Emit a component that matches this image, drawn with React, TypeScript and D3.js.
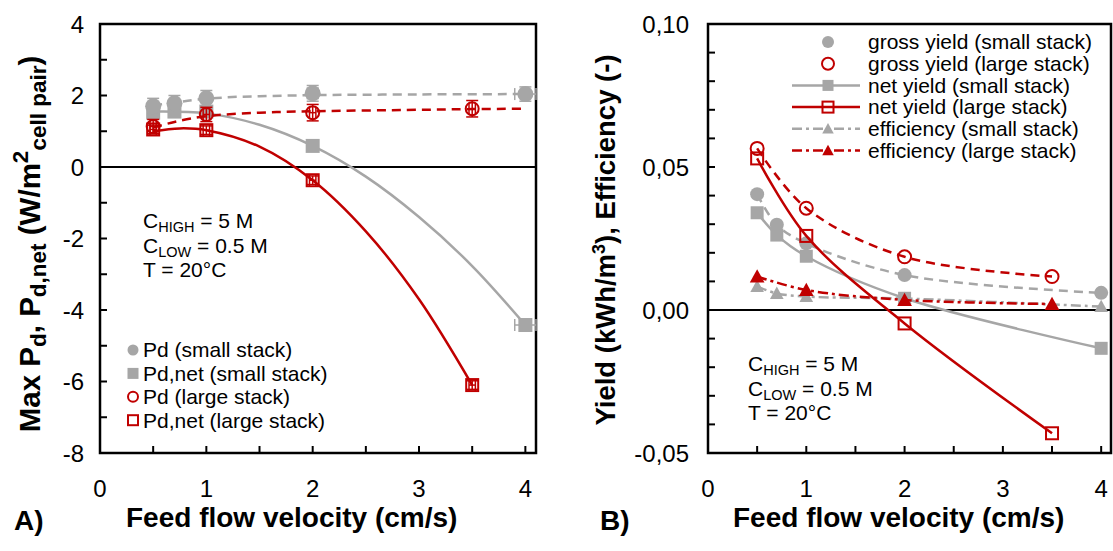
import React from "react";
import * as d3 from "d3";

// ---------- Panel A data ----------
const xSmallA = [0.5, 0.7, 1, 2, 4];
const pdSmall = [1.7, 1.78, 1.92, 2.06, 2.04];
const pdSmallErr = [0.22, 0.22, 0.22, 0.22, 0.2];
const pdSmallXErr = [0.03, 0.03, 0.03, 0.05, 0.1];
const pdNetSmall = [1.52, 1.55, 1.55, 0.59, -4.42];
const pdNetSmallErr = [0.15, 0.15, 0.15, 0.15, 0.15];
const pdNetSmallXErr = [0.03, 0.03, 0.03, 0.05, 0.1];

const xLargeA = [0.5, 1, 2, 3.5];
const pdLarge = [1.13, 1.47, 1.52, 1.63];
const pdLargeErr = [0.2, 0.2, 0.23, 0.23];
const pdLargeXErr = [0.03, 0.03, 0.03, 0.03];
const pdNetLarge = [1.05, 1.03, -0.37, -6.1];
const pdNetLargeErr = [0.12, 0.12, 0.12, 0.12];
const pdNetLargeXErr = [0.03, 0.03, 0.03, 0.03];

// fitted trend curves
const trendPdSmallX = [0.5, 0.7, 0.9, 1.2, 1.5, 2, 3, 4];
const trendPdSmallY = [1.72, 1.8, 1.88, 1.95, 1.98, 2.01, 2.03, 2.04];
const trendPdLargeX = [0.5, 0.7, 1, 1.5, 2, 3, 3.5, 4];
const trendPdLargeY = [1.1, 1.26, 1.42, 1.52, 1.56, 1.6, 1.62, 1.63];
const trendNetSmallX = [0.5, 1, 1.5, 2, 2.5, 3, 3.5, 4];
const trendNetSmallY = [1.55, 1.5, 1.18, 0.59, -0.27, -1.4, -2.77, -4.42];
const trendNetLargeX = [0.5, 0.75, 1, 1.5, 2, 2.5, 3, 3.5];
const trendNetLargeY = [1.0, 1.08, 1.03, 0.57, -0.37, -1.8, -3.7, -6.1];

const xTicksA = [0, 1, 2, 3, 4];
const yTicksA = [4, 2, 0, -2, -4, -6, -8];

// ---------- Panel B data ----------
const xSmallB = [0.5, 0.7, 1, 2, 4];
const grossSmall = [0.0405, 0.0298, 0.0233, 0.0122, 0.006];
const netSmall = [0.034, 0.0262, 0.0188, 0.0041, -0.0134];
const effSmall = [0.0082, 0.0058, 0.0047, 0.004, 0.0012];
const xLargeB = [0.5, 1, 2, 3.5];
const grossLarge = [0.0565, 0.0356, 0.0186, 0.0117];
const netLarge = [0.053, 0.0259, -0.0047, -0.0431];
const effLarge = [0.0117, 0.007, 0.0035, 0.0021];

const xTicksB = [0, 1, 2, 3, 4];
const yTicksB = [0.1, 0.05, 0, -0.05];

const legendA = ["Pd (small stack)", "Pd,net (small stack)", "Pd (large stack)", "Pd,net (large stack)"];
const legendB = [
  "gross yield (small stack)",
  "gross yield (large stack)",
  "net yield (small stack)",
  "net yield (large stack)",
  "efficiency (small stack)",
  "efficiency (large stack)",
];

const GRAY = "#A6A6A6";
const RED = "#C00000";
const FONT = "'Liberation Sans', Arial, sans-serif";

type Shape = "circle" | "square" | "triangle";

function Marker({ x, y, shape, color, filled, size }: { x: number; y: number; shape: Shape; color: string; filled: boolean; size: number }) {
  const fill = filled ? color : "none";
  const sw = filled ? 0 : 2;
  const h = size / 2;
  if (shape === "circle") return <circle cx={x} cy={y} r={h} fill={fill} stroke={color} strokeWidth={sw} />;
  if (shape === "square") return <rect x={x - h} y={y - h} width={size} height={size} fill={fill} stroke={color} strokeWidth={sw} />;
  const pts = [[x, y - h * 1.05], [x + h * 1.05, y + h * 0.85], [x - h * 1.05, y + h * 0.85]];
  return <polygon points={pts.map((p) => p.join(",")).join(" ")} fill={fill} stroke={color} strokeWidth={sw} />;
}

function ErrorBars({ xs, ys, ye, xe, sx, sy, color }: any) {
  return (
    <g stroke={color} strokeWidth={1.5}>
      {xs.map((xv: number, i: number) => {
        const cx = sx(xv), cy = sy(ys[i]);
        const t = sy(ys[i] + ye[i]), b = sy(ys[i] - ye[i]);
        const l = sx(xv - xe[i]), r = sx(xv + xe[i]);
        return (
          <g key={i}>
            <line x1={cx} x2={cx} y1={t} y2={b} />
            <line x1={cx - 6} x2={cx + 6} y1={t} y2={t} />
            <line x1={cx - 6} x2={cx + 6} y1={b} y2={b} />
            <line x1={l} x2={r} y1={cy} y2={cy} />
            <line x1={l} x2={l} y1={cy - 6} y2={cy + 6} />
            <line x1={r} x2={r} y1={cy - 6} y2={cy + 6} />
          </g>
        );
      })}
    </g>
  );
}

function curvePath(xs: number[], ys: number[], sx: any, sy: any) {
  const line = d3
    .line<number>()
    .x((_, i) => sx(xs[i]))
    .y((d) => sy(d))
    .curve(d3.curveCatmullRom.alpha(0.5));
  return line(ys) || "";
}

function Frame({ sx, sy, xDomain, yDomain, minorX, minorY }: any) {
  const [x0, x1] = xDomain;
  const [y0, y1] = yDomain;
  const L = sx(x0), R = sx(x1), T = sy(y1), B = sy(y0);
  return (
    <g>
      <rect x={L} y={T} width={R - L} height={B - T} fill="none" stroke="#000" strokeWidth={2.5} />
      <line x1={L} x2={R} y1={sy(0)} y2={sy(0)} stroke="#000" strokeWidth={2} />
      {minorX.map((v: number, i: number) => (
        <line key={"mx" + i} x1={sx(v)} x2={sx(v)} y1={B} y2={B - 7} stroke="#000" strokeWidth={2} />
      ))}
      {minorY.map((v: number, i: number) => (
        <line key={"my" + i} x1={L} x2={L + 7} y1={sy(v)} y2={sy(v)} stroke="#000" strokeWidth={2} />
      ))}
    </g>
  );
}

function Annotation({ x, y }: { x: number; y: number }) {
  return (
    <g fontSize={21}>
      <text x={x} y={y}>
        C<tspan fontSize={14.5} dy={4}>HIGH</tspan>
        <tspan dy={-4}> = 5 M</tspan>
      </text>
      <text x={x} y={y + 24.5}>
        C<tspan fontSize={14.5} dy={4}>LOW</tspan>
        <tspan dy={-4}> = 0.5 M</tspan>
      </text>
      <text x={x} y={y + 49}>T = 20°C</text>
    </g>
  );
}

export default function App() {
  // Panel A scales
  const sxA = d3.scaleLinear().domain([0, 4.1]).range([100, 536]);
  const syA = d3.scaleLinear().domain([-8, 4]).range([453, 24]);
  // Panel B scales
  const sxB = d3.scaleLinear().domain([0, 4.1]).range([708, 1111]);
  const syB = d3.scaleLinear().domain([-0.05, 0.1]).range([453, 24]);

  const minorXA = d3.range(0.5, 4.01, 0.5);
  const minorYA = d3.range(-7, 4, 1);
  const minorXB = d3.range(0.5, 4.01, 0.5);
  const minorYB = d3.range(-0.04, 0.0951, 0.01);

  const fmtB = (v: number) => d3.format(".2f")(v).replace(".", ",").replace("−", "-");

  return (
    <svg width={1113} height={551} style={{ position: "absolute", left: 0, top: 0, background: "#fff" }} fontFamily={FONT}>
      <rect x={0} y={0} width={1113} height={551} fill="#fff" />
      {/* ================= Panel A ================= */}
      <Frame sx={sxA} sy={syA} xDomain={[0, 4.1]} yDomain={[-8, 4]} minorX={minorXA} minorY={minorYA} />
      {yTicksA.map((v) => (
        <text key={"ya" + v} x={84} y={syA(v)} dy="0.36em" textAnchor="end" fontSize={24}>
          {String(v)}
        </text>
      ))}
      {xTicksA.map((v) => (
        <text key={"xa" + v} x={sxA(v)} y={497} textAnchor="middle" fontSize={24}>
          {v}
        </text>
      ))}
      {/* trend lines */}
      <path d={curvePath(trendPdSmallX, trendPdSmallY, sxA, syA)} fill="none" stroke={GRAY} strokeWidth={2.5} strokeDasharray="9,6" />
      <path d={curvePath(trendNetSmallX, trendNetSmallY, sxA, syA)} fill="none" stroke={GRAY} strokeWidth={2.5} />
      {/* gray markers */}
      <ErrorBars xs={xSmallA} ys={pdNetSmall} ye={pdNetSmallErr} xe={pdNetSmallXErr} sx={sxA} sy={syA} color={GRAY} />
      {xSmallA.map((xv, i) => (
        <Marker key={"pns" + i} x={sxA(xv)} y={syA(pdNetSmall[i])} shape="square" color={GRAY} filled size={14} />
      ))}
      <ErrorBars xs={xSmallA} ys={pdSmall} ye={pdSmallErr} xe={pdSmallXErr} sx={sxA} sy={syA} color={GRAY} />
      {xSmallA.map((xv, i) => (
        <Marker key={"ps" + i} x={sxA(xv)} y={syA(pdSmall[i])} shape="circle" color={GRAY} filled size={16} />
      ))}
      <path d={curvePath(trendPdLargeX, trendPdLargeY, sxA, syA)} fill="none" stroke={RED} strokeWidth={2.5} strokeDasharray="9,6" />
      <path d={curvePath(trendNetLargeX, trendNetLargeY, sxA, syA)} fill="none" stroke={RED} strokeWidth={2.5} />
      <ErrorBars xs={xLargeA} ys={pdLarge} ye={pdLargeErr} xe={pdLargeXErr} sx={sxA} sy={syA} color={RED} />
      {xLargeA.map((xv, i) => (
        <Marker key={"pl" + i} x={sxA(xv)} y={syA(pdLarge[i])} shape="circle" color={RED} filled={false} size={13} />
      ))}
      <ErrorBars xs={xLargeA} ys={pdNetLarge} ye={pdNetLargeErr} xe={pdNetLargeXErr} sx={sxA} sy={syA} color={RED} />
      {xLargeA.map((xv, i) => (
        <Marker key={"pnl" + i} x={sxA(xv)} y={syA(pdNetLarge[i])} shape="square" color={RED} filled={false} size={12} />
      ))}
      <Annotation x={143} y={228} />
      {/* legend A */}
      <g fontSize={21}>
        {legendA.map((label, i) => {
          const y = 350 + i * 23.4;
          const shape: Shape = i % 2 === 0 ? "circle" : "square";
          const color = i < 2 ? GRAY : RED;
          return (
            <g key={"la" + i}>
              <Marker x={133} y={y} shape={shape} color={color} filled={i < 2} size={i < 2 ? 11 : 10} />
              <text x={143} y={y} dy="0.35em">
                {label}
              </text>
            </g>
          );
        })}
      </g>
      {/* axis titles A */}
      <text transform="translate(40,244) rotate(-90)" textAnchor="middle" fontSize={29.5} fontWeight="bold">
        Max P<tspan fontSize={22.5} dy={6}>d</tspan>
        <tspan dy={-6}>, P</tspan>
        <tspan fontSize={22.5} dy={6}>d,net</tspan>
        <tspan dy={-6}> (W/m</tspan>
        <tspan fontSize={22.5} dy={-12}>2</tspan>
        <tspan fontSize={22.5} dy={18}>cell pair</tspan>
        <tspan dy={-6}>)</tspan>
      </text>
      <text x={14} y={530} fontSize={28} fontWeight="bold">A)</text>
      <text x={126} y={527} fontSize={28} fontWeight="bold">Feed flow velocity (cm/s)</text>

      {/* ================= Panel B ================= */}
      <Frame sx={sxB} sy={syB} xDomain={[0, 4.1]} yDomain={[-0.05, 0.1]} minorX={minorXB} minorY={minorYB} />
      {yTicksB.map((v) => (
        <text key={"yb" + v} x={689} y={syB(v)} dy="0.36em" textAnchor="end" fontSize={24}>
          {fmtB(v)}
        </text>
      ))}
      {xTicksB.map((v) => (
        <text key={"xb" + v} x={sxB(v)} y={497} textAnchor="middle" fontSize={24}>
          {v}
        </text>
      ))}
      {/* gray series */}
      <path d={curvePath(xSmallB, grossSmall, sxB, syB)} fill="none" stroke={GRAY} strokeWidth={2.5} strokeDasharray="9,6" />
      <path d={curvePath(xSmallB, netSmall, sxB, syB)} fill="none" stroke={GRAY} strokeWidth={2.5} />
      <path d={curvePath(xSmallB, effSmall, sxB, syB)} fill="none" stroke={GRAY} strokeWidth={2.5} strokeDasharray="10,4,3,4" />
      {xSmallB.map((xv, i) => (
        <Marker key={"gs" + i} x={sxB(xv)} y={syB(grossSmall[i])} shape="circle" color={GRAY} filled size={14} />
      ))}
      {xSmallB.map((xv, i) => (
        <Marker key={"ns" + i} x={sxB(xv)} y={syB(netSmall[i])} shape="square" color={GRAY} filled size={13} />
      ))}
      {xSmallB.map((xv, i) => (
        <Marker key={"es" + i} x={sxB(xv)} y={syB(effSmall[i])} shape="triangle" color={GRAY} filled size={13} />
      ))}
      {/* red series */}
      <path d={curvePath(xLargeB, grossLarge, sxB, syB)} fill="none" stroke={RED} strokeWidth={2.5} strokeDasharray="9,6" />
      <path d={curvePath(xLargeB, netLarge, sxB, syB)} fill="none" stroke={RED} strokeWidth={2.5} />
      <path d={curvePath(xLargeB, effLarge, sxB, syB)} fill="none" stroke={RED} strokeWidth={2.5} strokeDasharray="10,4,3,4" />
      {xLargeB.map((xv, i) => (
        <Marker key={"gl" + i} x={sxB(xv)} y={syB(grossLarge[i])} shape="circle" color={RED} filled={false} size={13} />
      ))}
      {xLargeB.map((xv, i) => (
        <Marker key={"nl" + i} x={sxB(xv)} y={syB(netLarge[i])} shape="square" color={RED} filled={false} size={12} />
      ))}
      {xLargeB.map((xv, i) => (
        <Marker key={"el" + i} x={sxB(xv)} y={syB(effLarge[i])} shape="triangle" color={RED} filled size={14} />
      ))}
      {/* legend B */}
      <g fontSize={21}>
        {legendB.map((label, i) => {
          const y = 42 + i * 21.7;
          const color = i % 2 === 0 ? GRAY : RED;
          const shape: Shape = i < 2 ? "circle" : i < 4 ? "square" : "triangle";
          const filled = i % 2 === 0 || i >= 4;
          const dash = i >= 4 ? "10,4,3,4" : undefined;
          return (
            <g key={"lb" + i}>
              {i >= 2 && <line x1={792} x2={860} y1={y} y2={y} stroke={color} strokeWidth={2.5} strokeDasharray={dash} />}
              <Marker x={828} y={y} shape={shape} color={color} filled={filled} size={i < 2 ? 12 : 11} />
              <text x={868} y={y} dy="0.35em">
                {label}
              </text>
            </g>
          );
        })}
      </g>
      <Annotation x={748} y={371} />
      {/* axis titles B */}
      <text transform="translate(615,240) rotate(-90)" textAnchor="middle" fontSize={27.5} fontWeight="bold">
        Yield (kWh/m<tspan fontSize={18} dy={-10}>3</tspan>
        <tspan dy={10}>), Efficiency (-)</tspan>
      </text>
      <text x={600} y={530} fontSize={28} fontWeight="bold">B)</text>
      <text x={733} y={527} fontSize={28} fontWeight="bold">Feed flow velocity (cm/s)</text>
    </svg>
  );
}
